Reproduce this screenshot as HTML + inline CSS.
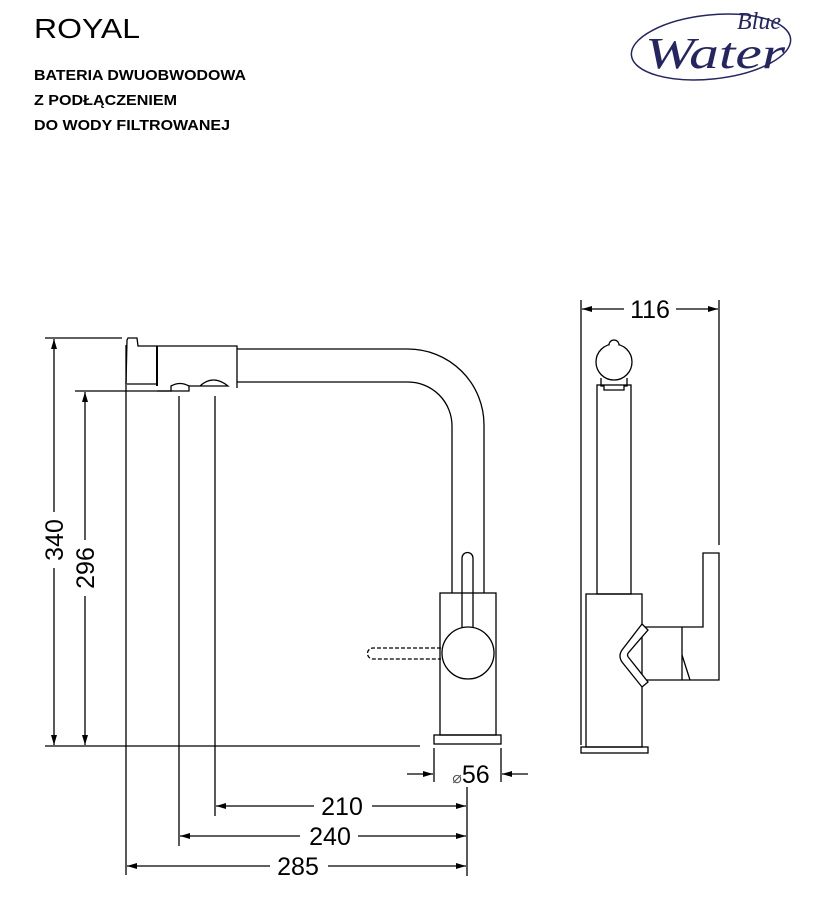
<!DOCTYPE html>
<html><head><meta charset="utf-8"><style>
html,body{margin:0;padding:0;background:#fff;}
svg{display:block;}
text{font-family:"Liberation Sans",sans-serif;fill:#000;}
</style></head><body>
<svg width="816" height="898" viewBox="0 0 816 898" xmlns="http://www.w3.org/2000/svg">
<defs>
<marker id="a" viewBox="0 0 10 6" refX="10" refY="3" markerWidth="10" markerHeight="6" orient="auto-start-reverse" markerUnits="userSpaceOnUse"><path d="M0,0 L10,3 L0,6 z" fill="#000"/></marker>
</defs>
<text x="34" y="38" font-size="28" textLength="106" lengthAdjust="spacingAndGlyphs">ROYAL</text>
<text x="34" y="80" font-size="15" font-weight="bold" textLength="212" lengthAdjust="spacingAndGlyphs">BATERIA DWUOBWODOWA</text>
<text x="34" y="105" font-size="15" font-weight="bold" textLength="143" lengthAdjust="spacingAndGlyphs">Z PODŁĄCZENIEM</text>
<text x="34" y="130" font-size="15" font-weight="bold" textLength="196" lengthAdjust="spacingAndGlyphs">DO WODY FILTROWANEJ</text>
<!-- logo -->
<ellipse cx="711" cy="47" rx="80" ry="32" fill="none" stroke="#26265e" stroke-width="1.5" transform="rotate(-6 711 47)"/>
<text x="737" y="29" font-size="24" font-style="italic" style="font-family:'Liberation Serif',serif;fill:#26265e">Blue</text>
<text x="645" y="68" font-size="44" font-style="italic" textLength="140" lengthAdjust="spacingAndGlyphs" style="font-family:'Liberation Serif',serif;fill:#26265e">Water</text>

<g stroke="#000" stroke-width="1.3" fill="none">
<line x1="45" y1="338" x2="122" y2="338"/>
<line x1="45" y1="746" x2="420" y2="746"/>
<line x1="54" y1="339" x2="54" y2="745" marker-start="url(#a)" marker-end="url(#a)"/>
<line x1="75" y1="391" x2="172" y2="391"/>
<line x1="85" y1="392" x2="85" y2="745" marker-start="url(#a)" marker-end="url(#a)"/>
<line x1="126" y1="345" x2="126" y2="875"/>
<path d="M126,384 L127,340 L128,338 L137,338 L138,346 L157,346"/>
<line x1="157" y1="346" x2="157" y2="386" stroke-width="2"/>
<path d="M127,384 L157,384 M157,391 L171,391"/>
<path d="M171,391 L171,386 Q180,381 189,386 L189,391 L171,391" />
<path d="M189,386 L200,386 Q213,374 228,386 Z"/>
<path d="M157,346 L237,346 L237,388"/>
<path d="M237,349 L408,349 A76,76 0 0 1 484,425 L484,593"/>
<path d="M237,382 L408,382 A44,44 0 0 1 452,426 L452,593"/>
<rect x="440" y="593" width="56" height="142"/>
<rect x="434" y="735" width="67" height="9"/>
<path d="M462,630 L462,558 A5.5,5.5 0 0 1 473,558 L473,630"/>
<circle cx="468" cy="653" r="26" fill="#fff"/>
<path d="M441,648 L373,648 A5.5,5.5 0 0 0 373,659 L441,659" stroke-dasharray="4,2"/>
<line x1="434" y1="748" x2="434" y2="782"/>
<line x1="501" y1="748" x2="501" y2="782"/>
<line x1="407" y1="774" x2="433" y2="774" marker-end="url(#a)"/>
<line x1="528" y1="774" x2="502" y2="774" marker-end="url(#a)"/>
<line x1="215" y1="396" x2="215" y2="816"/>
<line x1="179" y1="396" x2="179" y2="846"/>
<line x1="467" y1="787" x2="467" y2="876"/>
<line x1="216" y1="806" x2="466" y2="806" marker-start="url(#a)" marker-end="url(#a)"/>
<line x1="180" y1="836" x2="466" y2="836" marker-start="url(#a)" marker-end="url(#a)"/>
<line x1="127" y1="866" x2="466" y2="866" marker-start="url(#a)" marker-end="url(#a)"/>
<line x1="581" y1="300" x2="581" y2="745"/>
<line x1="719" y1="300" x2="719" y2="545"/>
<line x1="582" y1="309" x2="718" y2="309" marker-start="url(#a)" marker-end="url(#a)"/>
<rect x="597" y="385" width="34" height="209"/>
<path d="M601,378 L601,386 L604,386 L604,390 L624,390 L624,386 L627,386 L627,378"/>
<circle cx="614" cy="362" r="18" fill="#fff"/>
<path d="M609,345 A5,5 0 1 1 619,345" fill="#fff"/>
<rect x="586" y="594" width="56" height="153"/>
<rect x="581" y="747" width="67" height="6"/>
<path d="M642,627 L703,627 L703,553 L719,553 L719,680 L642,680"/>
<line x1="682" y1="627" x2="682" y2="680"/>
<path d="M642,624 L622,650 Q618,656 622,662 L642,687 L648,682 L629,658 Q626,655 629,652 L648,630 Z" fill="#fff"/>
<path d="M682,655 L690,680"/>
</g>
<g font-size="25" text-anchor="middle">
<rect x="40" y="512" width="28" height="56" fill="#fff"/>
<text transform="translate(63,540) rotate(-90)">340</text>
<rect x="72" y="540" width="28" height="56" fill="#fff"/>
<text transform="translate(94,568) rotate(-90)">296</text>
<rect x="314" y="794" width="58" height="24" fill="#fff"/>
<text x="342" y="815">210</text>
<rect x="300" y="824" width="58" height="24" fill="#fff"/>
<text x="330" y="845">240</text>
<rect x="270" y="854" width="58" height="24" fill="#fff"/>
<text x="298" y="875">285</text>
<rect x="624" y="298" width="52" height="22" fill="#fff"/>
<text x="650" y="318">116</text>
<text x="471" y="783"><tspan font-size="16" fill="#555">⌀</tspan>56</text>
</g>
</svg>
</body></html>
